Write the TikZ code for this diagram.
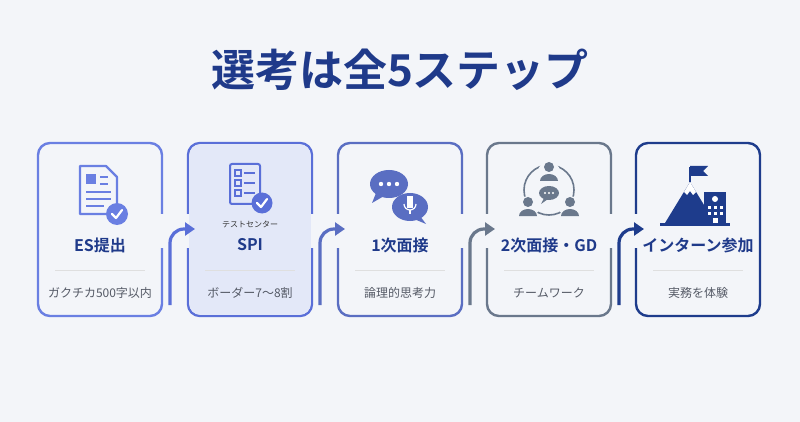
\documentclass[tikz,border=0pt]{standalone}
\usepackage{fontspec}
\setmainfont{Noto Sans CJK JP}[BoldFont={* Bold}]
\usepackage{tikz}
\usetikzlibrary{arrows.meta,calc,positioning}

\definecolor{bgc}{HTML}{F3F5F9}
\definecolor{navy}{HTML}{1F3A8A}
\definecolor{cA}{HTML}{6A7FE2}
\definecolor{cB}{HTML}{5A6FD8}
\definecolor{cBfill}{HTML}{E3E8F8}
\definecolor{cC}{HTML}{5A6EC2}
\definecolor{cD}{HTML}{6A788C}
\definecolor{cE}{HTML}{1E3C8C}
\definecolor{subc}{HTML}{555A66}

\begin{document}
\begin{tikzpicture}[
    x=1pt, y=-1pt, >=Latex,
    stepbox/.style={draw, line width=2.4pt, rounded corners=12pt, fill=bgc},
    ttl/.style={font=\bfseries\fontsize{16}{16}\selectfont, text=navy},
    sub/.style={font=\fontsize{12}{12}\selectfont, text=subc},
    sep/.style={draw=gray!25, line width=0.8pt},
    flow/.style={-{Triangle[length=10pt,width=13pt]}, line width=3.2pt, rounded corners=14pt}
]

% 背景
\fill[bgc] (0,0) rectangle (800,422);

% タイトル
\node[font=\bfseries\fontsize{44}{44}\selectfont, text=navy] (title) at (400,70) {選考は全5ステップ};

% ステップの枠
\foreach \i/\x/\col in {1/38/cA, 2/188/cB, 3/338/cC, 4/487/cD, 5/636/cE}{
  \draw[stepbox, draw=\col] (\x,143) rectangle ++(124,173);
  \coordinate (s\i) at ($(\x,143)+(62,0)$);
}

% 枠の切れ目
\foreach \x in {155,305,455,604}{
  \fill[bgc] (\x,214) rectangle ++(42,34);
}
\fill[cBfill, rounded corners=11pt] (189.2,144.2) rectangle (310.8,314.8);

% 矢印
\foreach \a/\x/\col in {1/170/cB, 2/320/cC, 3/470/cD, 4/619/cE}{
  \coordinate (p\a) at (\x,305);
  \coordinate (q\a) at (\x+25,229);
  \draw[flow, draw=\col] (p\a) |- (q\a);
}

% 見出しと説明
\foreach \i/\t/\s in {1/ES提出/ガクチカ500字以内, 2/SPI/ボーダー7〜8割, 3/1次面接/論理的思考力,
                      4/2次面接・GD/チームワーク, 5/インターン参加/実務を体験}{
  \node[ttl] (t\i) at ($(s\i)+(0,102)$) {\t};
  \draw[sep] ($(s\i)+(-45,127)$) -- ($(s\i)+(45,127)$);
  \node[sub] (d\i) at ($(s\i)+(0,150)$) {\s};
}

% アイコン1: 書類
\draw[cA, line width=2.2pt, line join=round] (80,166) -- (106,166) -- (117,177) -- (117,214) -- (80,214) -- cycle;
\fill[cA] (86,174) rectangle (96,184);
\foreach \x/\y/\l in {100/176/8, 100/183/8, 86/191/25, 86/198/25, 86/205/18}{
  \fill[cA] (\x,\y) rectangle ++(\l,2.5);
}
\fill[cA] (117,214) circle (11);
\draw[white, line width=2.2pt, line cap=round, line join=round] (112,214) -- (116,218) -- (122,210);

% アイコン2: チェックリスト
\draw[cB, line width=2pt, rounded corners=2pt] (230,164) rectangle (260,204);
\foreach \y in {173,183,193}{
  \draw[cB, line width=1.5pt] (235,\y-3) rectangle ++(6,6);
  \fill[cB] (244,\y-1) rectangle ++(11,2.2);
}
\fill[cB] (262,203) circle (10.5);
\draw[white, line width=2.2pt, line cap=round, line join=round] (257,203) -- (261,207) -- (267,199);
\node[font=\fontsize{8}{8}\selectfont, text=black!80] (tc) at (250,224) {テストセンター};

% アイコン3: 吹き出しとマイク
\fill[cC] (389,184) ellipse (19 and 14);
\fill[cC] (376,193) -- (372,203) -- (384,196) -- cycle;
\foreach \x in {381,389,397}{ \fill[white] (\x,184) circle (2.2); }
\fill[cC] (410,207) ellipse (18 and 14);
\fill[cC] (420,216) -- (426,224) -- (414,219) -- cycle;
\fill[white] (407,196) rectangle ++(6,12);
\draw[white, line width=1.2pt] (404,204) arc[start angle=180, end angle=360, x radius=6, y radius=-6];
\draw[white, line width=1.2pt] (410,210) -- (410,214);

% アイコン4: 人の輪
\draw[cD, line width=1.6pt] (549,190) circle (25);
\foreach \x/\y in {549/172, 528/207, 570/207}{
  \fill[bgc] (\x,\y) circle (11);
  \fill[cD] (\x,\y-5) circle (5);
  \fill[cD] (\x-9,\y+9) arc[start angle=180, end angle=0, x radius=9, y radius=-7] -- cycle;
}
\fill[cD] (549,193) ellipse (10 and 7);
\fill[cD] (544,198) -- (541,204) -- (548,199) -- cycle;
\foreach \x in {545,549,553}{ \fill[white] (\x,193) circle (1.2); }

% アイコン5: 山と旗とビル
\fill[cE] (665,223) -- (690,182) -- (715,223) -- cycle;
\fill[white] (684,192) -- (690,182) -- (696,192) -- (693,195) -- (690,191) -- (687,195) -- cycle;
\draw[cE, line width=2pt] (690,182) -- (690,167);
\fill[cE] (690,166) -- (708,166) -- (703,171) -- (708,176) -- (690,176) -- cycle;
\fill[cE] (704,192) rectangle (726,223);
\fill[white] (715,199) circle (3);
\foreach \x in {708,714,720}{
  \foreach \y in {206,212}{ \fill[white] (\x,\y) rectangle ++(3,3); }
}
\fill[white] (713,218) rectangle ++(5,5);
\fill[cE] (660,223) rectangle (730,226);

\end{tikzpicture}
\end{document}
